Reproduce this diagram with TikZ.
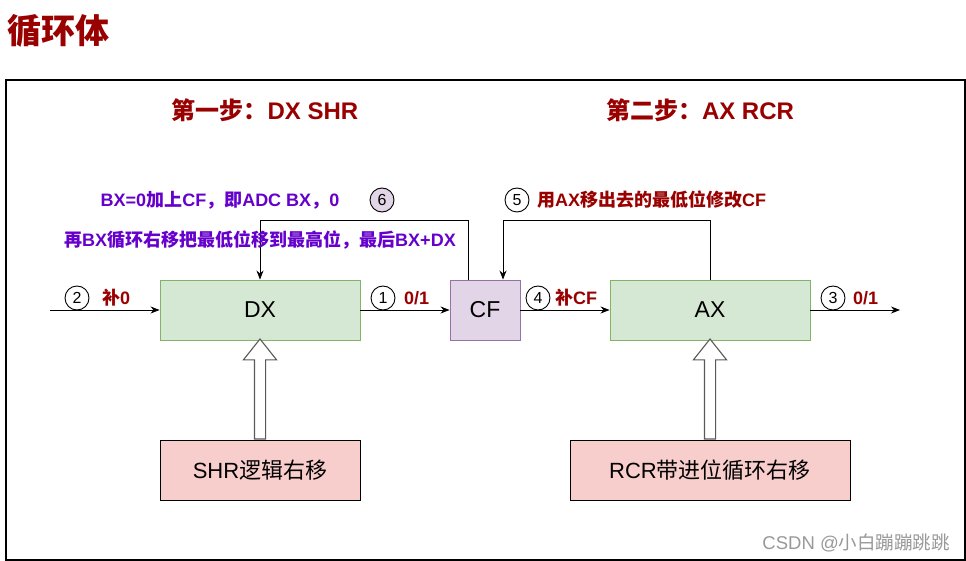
\documentclass[tikz,border=0pt]{standalone}
\usepackage{fontspec}
\setmainfont{Noto Sans CJK SC}
\newfontfamily\lf{Liberation Sans}
\usetikzlibrary{arrows.meta,shapes.arrows}
\definecolor{dred}{HTML}{990000}
\definecolor{purp}{HTML}{6600CC}
\definecolor{gfill}{HTML}{D5E8D4}
\definecolor{gline}{HTML}{82B366}
\definecolor{pfill}{HTML}{E1D5E7}
\definecolor{pline}{HTML}{9673A6}
\definecolor{rfill}{HTML}{F8CECC}
\begin{document}
\begin{tikzpicture}[x=1pt,y=-1pt,
  reg/.style={draw=gline,fill=gfill,line width=0.9pt,minimum width=200pt,minimum height=60pt,font=\lf\fontsize{23}{26}\selectfont,inner sep=0pt},
  cfbox/.style={draw=pline,fill=pfill,line width=0.9pt,minimum width=70pt,minimum height=60pt,font=\lf\fontsize{23}{26}\selectfont,inner sep=0pt},
  opbox/.style={draw=black,fill=rfill,line width=0.9pt,minimum height=60pt,font=\fontsize{22}{25}\selectfont,inner sep=0pt},
  num/.style={draw=black,circle,line width=0.9pt,minimum size=24pt,inner sep=0pt,font=\lf\fontsize{16}{18}\selectfont},
  lab/.style={text=dred,font=\bfseries\fontsize{18}{20}\selectfont,anchor=west,inner sep=0pt},
  plab/.style={text=purp,font=\bfseries\fontsize{18}{20}\selectfont,inner sep=0pt},
  head/.style={text=dred,font=\bfseries\fontsize{24}{27}\selectfont,inner sep=0pt},
  conn/.style={line width=0.9pt,-{Stealth[length=9pt,width=7pt]}},
  hollow/.style={draw=black!65,fill=white,line width=1.1pt,single arrow,shape border rotate=90,minimum height=100pt,minimum width=32pt,single arrow head extend=11pt,single arrow tip angle=77,inner sep=5pt}
]
\useasboundingbox (0,0) rectangle (966,561);
\fill[white] (0,0) rectangle (966,561);
\node[text=dred,font=\bfseries\fontsize{34}{38}\selectfont,anchor=west,inner sep=0pt] (title) at (7,31) {循环体};
\draw[line width=1.1pt] (6,80) rectangle (965,560);
\node[head] (h1) at (265,110) {第一步：{\lf DX SHR}};
\node[head] (h2) at (700,110) {第二步：{\lf AX RCR}};

\node[reg] (dx) at (260,310) {DX};
\node[cfbox] (cf) at (485,310) {CF};
\node[reg] (ax) at (710,310) {AX};
\node[opbox,minimum width=200pt] (shr) at (260,470) {{\lf SHR}逻辑右移};
\node[opbox,minimum width=280pt] (rcr) at (710,470) {{\lf RCR}带进位循环右移};

\node[hollow,anchor=tail] (ha1) at (shr.north) {};
\node[hollow,anchor=tail] (ha2) at (rcr.north) {};

\coordinate (in) at (50,310);
\coordinate (out) at (900,310);
\draw[conn] (in) -- (dx.west);
\draw[conn] (dx.east) -- (cf.west);
\draw[conn] (cf.east) -- (ax.west);
\draw[conn] (ax.east) -- (out);

\node[num] (n2) at (77,298) {2};
\node[lab] (l2) at (102,298) {补{\lf 0}};
\node[num] (n1) at (383,298) {1};
\node[lab] (l1) at (404,298) {\lf 0/1};
\node[num] (n4) at (538,298) {4};
\node[lab] (l4) at (555,298) {补{\lf CF}};
\node[num] (n3) at (833,298) {3};
\node[lab] (l3) at (853,298) {\lf 0/1};

\coordinate (f6a) at (468,220);
\coordinate (f6b) at (260,220);
\draw[conn] (cf.north -| f6a) -- (f6a) -- (f6b) -- (dx.north);
\coordinate (f5a) at (710,220);
\coordinate (f5b) at (503,220);
\draw[conn] (ax.north) -- (f5a) -- (f5b) -- (cf.north -| f5b);

\node[num,fill=pfill] (n6) at (382,200) {6};
\node[num] (n5) at (517,200) {5};
\node[lab] (l5) at (537,200) {用{\lf AX}移出去的最低位修改{\lf CF}};
\node[plab] (p1) at (220,200) {{\lf BX=0}加上{\lf CF}，即{\lf ADC BX}，{\lf 0}};
\node[plab] (p2) at (260,240) {再{\lf BX}循环右移把最低位移到最高位，最后{\lf BX+DX}};

\node[text=black!40,font=\fontsize{18.5}{20}\selectfont,anchor=east,inner sep=0pt] (wm) at (950,543) {{\lf CSDN @}小白蹦蹦跳跳};
\end{tikzpicture}
\end{document}
